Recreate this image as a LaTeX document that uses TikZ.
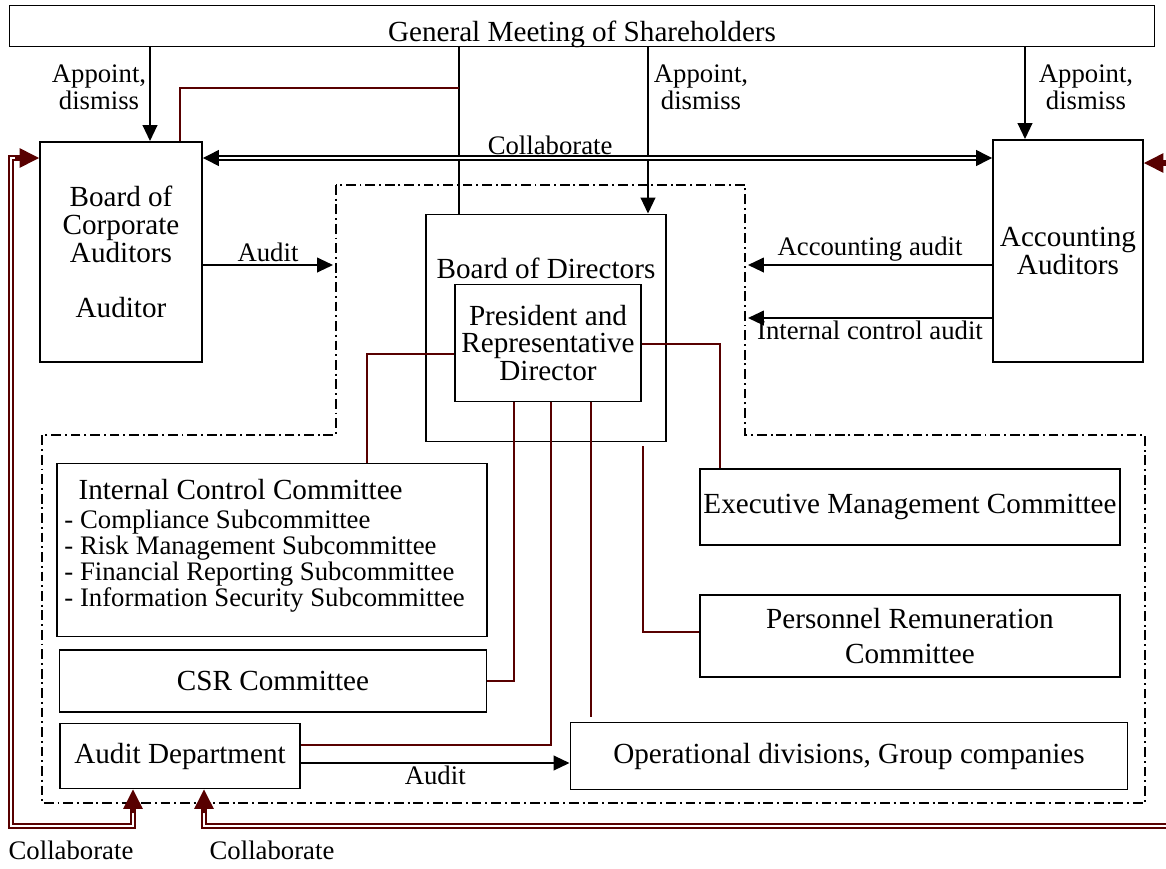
\documentclass[tikz,border=0pt]{standalone}
\usepackage{fontspec}
\setmainfont{Liberation Serif}
\usepackage{tikz}
\usetikzlibrary{positioning,calc}
\usetikzlibrary{arrows.meta}
\definecolor{darkbrown}{RGB}{88,0,0}
\tikzstyle{box} = [rectangle, draw=black, line width=0.8pt, align=center, inner sep=0pt, font=\fontsize{12}{11.4}\selectfont]
\tikzstyle{lbl} = [align=center, inner sep=1pt, font=\fontsize{11}{9}\selectfont]
\tikzstyle{arrow} = [line width=0.7pt, -{Triangle[length=6.5pt,width=6pt]}]
\tikzstyle{redline} = [draw=darkbrown, line width=0.7pt]
\tikzstyle{dbl} = [draw=black, double=white, line width=0.55pt, double distance=1.1pt, {Triangle[length=6.5pt,width=6.5pt]}-{Triangle[length=6.5pt,width=6.5pt]}]
\tikzstyle{collab} = [draw=darkbrown, double=white, line width=0.6pt, double distance=0.9pt, shorten <=7pt, shorten >=7pt]
\tikzstyle{collabtip} = [draw=darkbrown, fill=darkbrown, line width=0.6pt, -{Triangle[length=8pt,width=8pt]}]
\tikzstyle{region} = [draw=black, line width=0.8pt, dash pattern=on 4pt off 1.6pt on 0.8pt off 1.6pt]
\tikzset{dims/.style 2 args={minimum width=#1*0.4114pt, minimum height=#2*0.4114pt}}

\begin{document}
\begin{tikzpicture}[x=0.4114pt, y=-0.4114pt]
\useasboundingbox (0,0) rectangle (1166,868);
\clip (0,0) rectangle (1166,868);
\node (gms) at (582,26) [box, dims={1145}{41}, text height=13pt, text depth=0pt] {General Meeting of Shareholders};
\node (bca) at (121,252) [box, dims={162}{220}] {Board of\\Corporate\\Auditors\\[\baselineskip]Auditor};
\node (aa) at (1068,251) [box, dims={150}{222}] {Accounting\\Auditors};
\node (bod) at (546,328) [box, dims={240}{227}] {};
\node (bodlabel) at (546,268) [font=\fontsize{12}{11.4}\selectfont] {Board of Directors};
\node (pres) at (548,343) [box, dims={186}{117}] {President and\\Representative\\Director};
\node (icc) at (272,550) [box, dims={430}{173}] {};
\node (icctext) at (64,479) [anchor=north west, align=left, inner sep=0pt, font=\fontsize{11}{10.7}\selectfont] {\hspace*{5.8pt}{\fontsize{12}{12}\selectfont Internal Control Committee}\\[1pt]
- Compliance Subcommittee\\
- Risk Management Subcommittee\\
- Financial Reporting Subcommittee\\
- Information Security Subcommittee};
\node (csr) at (273,681) [box, dims={427}{62}] {CSR Committee};
\node (ad) at (180,756) [box, dims={240}{65}] {Audit Department};
\node (ops) at (849,756) [box, dims={557}{67}] {Operational divisions, Group companies};
\node (emc) at (910,507) [box, dims={420}{76}] {Executive Management Committee};
\node (prc) at (910,636) [box, dims={420}{82}] {Personnel Remuneration\\[3pt]Committee};

\draw[region] (336,185) -- (336,435) -- (42,435) -- (42,803) -- (1145,803) -- (1145,435) -- (745,435) -- (745,185) -- cycle;

\coordinate (ap1) at (150,0);
\coordinate (ap2) at (648,0);
\coordinate (ap3) at (1025,0);
\draw[arrow] (gms.south -| ap1) -- (bca.north -| ap1);
\draw[arrow] (gms.south -| ap2) -- (bod.north -| ap2);
\draw[arrow] (gms.south -| ap3) -- (aa.north -| ap3);
\node (lbl1) at (99,87) [lbl] {Appoint,\\dismiss};
\node (lbl2) at (701,87) [lbl] {Appoint,\\dismiss};
\node (lbl3) at (1086,87) [lbl] {Appoint,\\dismiss};

\coordinate (gl) at (459,0);
\draw[line width=0.7pt] (gms.south -| gl) -- (bod.north -| gl);
\coordinate (k1) at (180,88);
\draw[redline] (bca.north -| k1) -- (k1) -- (k1 -| gl);

\coordinate (c1) at (0,158);
\draw[dbl] (bca.east |- c1) -- (aa.west |- c1) node[lbl, above, pos=0.44] {Collaborate};

\coordinate (au1) at (333,265);
\coordinate (au2) at (748,265);
\coordinate (au3) at (748,318);
\draw[arrow] (bca.east |- au1) -- (au1) node[lbl, midway, above] {Audit};
\draw[arrow] (aa.west |- au2) -- (au2) node[lbl, midway, above] {Accounting audit};
\draw[arrow] (aa.west |- au3) -- (au3) node[lbl, midway, below] {Internal control audit};

\coordinate (p1) at (367,354);
\coordinate (p2) at (720,344);
\coordinate (p3) at (514,681);
\coordinate (p4) at (551,745);
\coordinate (p5) at (591,0);
\coordinate (p6) at (643,632);
\draw[redline] (pres.west |- p1) -- (p1) -- (icc.north -| p1);
\draw[redline] (pres.east |- p2) -- (p2) -- (emc.north -| p2);
\draw[redline] (pres.south -| p3) -- (p3) -- (csr.east |- p3);
\draw[redline] (pres.south -| p4) -- (p4) -- (ad.east |- p4);
\draw[redline, shorten >=2pt] (pres.south -| p5) -- (ops.north -| p5);
\draw[redline, shorten <=1.5pt] (bod.south -| p6) -- (p6) -- (prc.west |- p6);

\coordinate (a5) at (0,763);
\draw[arrow] (ad.east |- a5) -- (ops.west |- a5) node[lbl, midway, below] {Audit};

\coordinate (cl) at (11,826);
\coordinate (cb1) at (133,826);
\coordinate (cb2) at (204,826);
\coordinate (cr) at (1178,826);
\coordinate (c2) at (0,163);
\draw[collab] (bca.west |- c1) -- (c1 -| cl) -- (cl) -- (cb1) -- (ad.south -| cb1);
\draw[collab] (ad.south -| cb2) -- (cb2) -- (cr) -- (cr |- c2) -- (aa.east |- c2);
\draw[collabtip] ($(bca.west |- c1)+(-24,0)$) -- (bca.west |- c1);
\draw[collabtip] ($(ad.south -| cb1)+(0,24)$) -- (ad.south -| cb1);
\draw[collabtip] ($(ad.south -| cb2)+(0,24)$) -- (ad.south -| cb2);
\draw[collabtip] ($(aa.east |- c2)+(24,0)$) -- (aa.east |- c2);
\node (col1) at (71,850) [lbl] {Collaborate};
\node (col2) at (272,850) [lbl] {Collaborate};
\end{tikzpicture}
\end{document}
